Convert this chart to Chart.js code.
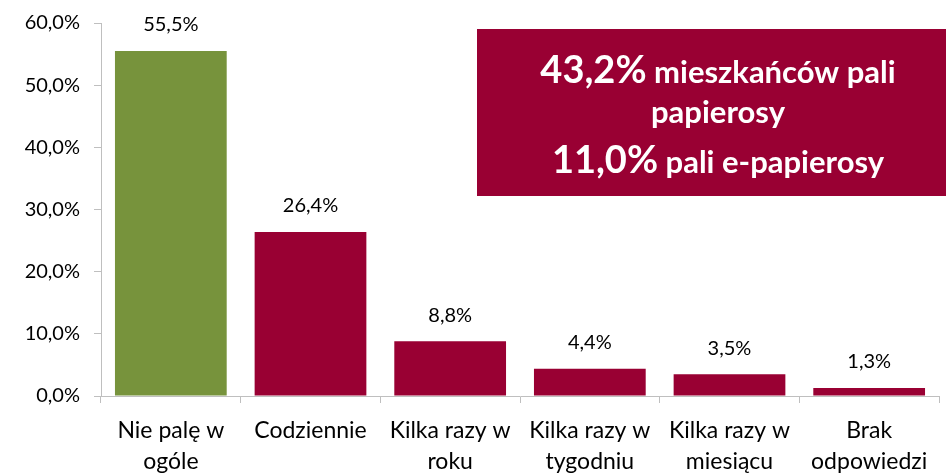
<!DOCTYPE html>
<html>
<head>
<meta charset="utf-8">
<script src="https://cdn.jsdelivr.net/npm/chart.js@4"></script>
<style>
  html, body { margin: 0; padding: 0; background: #fff; }
  #wrap { width: 946px; height: 474px; }
</style>
</head>
<body>
<div id="wrap"><canvas id="smokeChart"></canvas></div>
<script>
// data
const categories = [
    ['Nie palę w', 'ogóle'],
    ['Codziennie'],
    ['Kilka razy w', 'roku'],
    ['Kilka razy w', 'tygodniu'],
    ['Kilka razy w', 'miesiącu'],
    ['Brak', 'odpowiedzi']
];
const shares = [55.5, 26.4, 8.8, 4.4, 3.5, 1.3];
const barColors = ['#77933C', '#990033', '#990033', '#990033', '#990033', '#990033'];
const boxLines = [
    [['43,2%', 38], [' mieszkańców pali', 31]],
    [['papierosy', 31]],
    [['11,0%', 38], [' pali e-papierosy', 31]]
];

const FONT = 'Lato, "Open Sans", sans-serif';
const fmt = v => v.toFixed(1).replace('.', ',') + '%';

// value labels above the bars
const valueLabels = {
    id: 'valueLabels',
    afterDatasetsDraw(chart) {
        const ctx = chart.ctx;
        const meta = chart.getDatasetMeta(0);
        ctx.save();
        ctx.font = '20px ' + FONT;
        ctx.fillStyle = '#000';
        ctx.textAlign = 'center';
        ctx.textBaseline = 'middle';
        meta.data.forEach((bar, i) => {
            ctx.fillText(fmt(shares[i]), bar.x, bar.y - 26);
        });
        ctx.restore();
    }
};

// summary box in the upper right
const summaryBox = {
    id: 'summaryBox',
    afterDraw(chart) {
        const ctx = chart.ctx;
        const x0 = 477, y0 = 29, w = 469, h = 167;
        ctx.save();
        ctx.fillStyle = '#990033';
        ctx.fillRect(x0, y0, w, h);
        ctx.fillStyle = '#fff';
        ctx.textBaseline = 'alphabetic';
        const baselines = [83, 123, 173];
        const cx = 718;
        boxLines.forEach((parts, li) => {
            let total = 0;
            parts.forEach(p => {
                ctx.font = 'bold ' + p[1] + 'px ' + FONT;
                total += ctx.measureText(p[0]).width;
            });
            let x = cx - total / 2;
            parts.forEach(p => {
                ctx.font = 'bold ' + p[1] + 'px ' + FONT;
                ctx.fillText(p[0], x, baselines[li]);
                x += ctx.measureText(p[0]).width;
            });
        });
        ctx.restore();
    }
};

new Chart(document.getElementById('smokeChart'), {
    type: 'bar',
    data: {
        labels: categories,
        datasets: [{
            data: shares,
            backgroundColor: barColors,
            borderWidth: 0,
            categoryPercentage: 1.0,
            barPercentage: 0.8
        }]
    },
    options: {
        responsive: true,
        maintainAspectRatio: false,
        animation: false,
        layout: { padding: { top: 23, right: 7, left: 0, bottom: 0 } },
        plugins: {
            legend: { display: false },
            tooltip: { enabled: false }
        },
        scales: {
            x: {
                grid: {
                    offset: true,
                    drawOnChartArea: false,
                    color: '#BFBFBF',
                    tickLength: 7
                },
                border: { color: '#BFBFBF' },
                ticks: {
                    color: '#000',
                    font: { family: FONT, size: 23, lineHeight: 1.35 },
                    maxRotation: 0,
                    autoSkip: false,
                    padding: 12
                },
                afterFit(scale) { scale.height = 78; }
            },
            y: {
                min: 0,
                max: 60,
                grid: {
                    drawOnChartArea: false,
                    color: '#BFBFBF',
                    tickLength: 7
                },
                border: { color: '#BFBFBF' },
                ticks: {
                    stepSize: 10,
                    color: '#000',
                    font: { family: FONT, size: 20 },
                    padding: 14,
                    callback: v => fmt(v)
                },
                afterFit(scale) {
                    scale.width = 101;
                    scale.paddingTop = 0;
                    scale.paddingBottom = 0;
                }
            }
        }
    },
    plugins: [valueLabels, summaryBox]
});
</script>
</body>
</html>
